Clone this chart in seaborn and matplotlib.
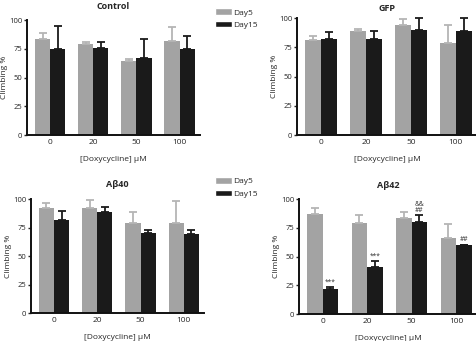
import numpy as np
import pandas as pd
import matplotlib
matplotlib.use('Agg')
import matplotlib.pyplot as plt
from matplotlib.patches import Patch
import seaborn as sns

# doses de doxycycline
doses = ['0', '20', '50', '100']
jours = ['Day5', 'Day15']

# valeurs (moyenne, erreur haute)
control_d5 = [84, 79, 64, 82]
control_d5_err = [5, 2, 2, 12]
control_d15 = [75, 76, 67, 75]
control_d15_err = [20, 5, 17, 11]

gfp_d5 = [81, 89, 94, 79]
gfp_d5_err = [4, 2, 5, 15]
gfp_d15 = [82, 82, 90, 89]
gfp_d15_err = [6, 7, 10, 11]

ab40_d5 = [92, 92, 79, 79]
ab40_d5_err = [5, 7, 10, 19]
ab40_d15 = [82, 89, 70, 69]
ab40_d15_err = [8, 4, 3, 4]

ab42_d5 = [87, 79, 84, 66]
ab42_d5_err = [5, 7, 5, 12]
ab42_d15 = [22, 41, 80, 60]
ab42_d15_err = [1.5, 5, 6, 0.5]
ab42_stars = ['***', '***', '&&\n##', '##']

# titre, données, position [gauche, bas, largeur, hauteur], marge du titre
panels = [
    ('Control', control_d5, control_d5_err, control_d15, control_d15_err, None,
     [0.057, 0.604, 0.362, 0.337], 8),
    ('GFP', gfp_d5, gfp_d5_err, gfp_d15, gfp_d15_err, None,
     [0.623, 0.604, 0.377, 0.343], 5),
    ('A\u03b240', ab40_d5, ab40_d5_err, ab40_d15, ab40_d15_err, None,
     [0.065, 0.082, 0.363, 0.334], 9),
    ('A\u03b242', ab42_d5, ab42_d5_err, ab42_d15, ab42_d15_err, ab42_stars,
     [0.627, 0.079, 0.373, 0.337], 8),
]

sns.set_style('white')
plt.rcParams['font.family'] = ['Open Sans', 'DejaVu Sans']

gris = '#a3a3a3'
noir = '#1a1a1a'
err_gris = '#b5b5b5'
palette = {'Day5': gris, 'Day15': noir}

fig = plt.figure(figsize=(4.77, 3.41), dpi=100)

for titre, d5, e5, d15, e15, stars, pos, tpad in panels:
    ax = fig.add_axes(pos)
    df = pd.DataFrame({
        'dose': doses * 2,
        'jour': ['Day5'] * 4 + ['Day15'] * 4,
        'val': d5 + d15,
    })
    sns.barplot(data=df, x='dose', y='val', hue='jour', order=doses, hue_order=jours,
                palette=palette, width=0.7, errorbar=None, saturation=1,
                edgecolor='none', legend=False, ax=ax)

    # barres d'erreur (seulement vers le haut)
    for cont, vals, errs, col in zip(ax.containers, [d5, d15], [e5, e15], [err_gris, noir]):
        xs = [b.get_x() + b.get_width() / 2 for b in cont]
        ax.errorbar(xs, vals, yerr=[np.zeros(len(errs)), errs], fmt='none',
                    ecolor=col, elinewidth=1.3, capsize=2.8, capthick=1.3,
                    clip_on=False, zorder=3)
        if stars is not None and col == noir:
            for x, v, e, s in zip(xs, vals, errs, stars):
                ax.text(x, v + e + 1.5, s, ha='center', va='bottom', fontsize=4.8,
                        linespacing=0.8, color='#333333')

    ax.set_xlim(-0.53, 3.47)
    ax.set_ylim(0, 100)
    ax.set_yticks([0, 25, 50, 75, 100])
    ax.set_title(titre, fontsize=6.5, fontweight='bold', pad=tpad)
    ax.set_xlabel('[Doxycycline] \u03bcM', fontsize=6, labelpad=7)
    ax.set_ylabel('Climbing %', fontsize=6, labelpad=1)
    ax.tick_params(axis='y', labelsize=5.5, length=2.5, width=1, pad=1, left=True)
    ax.tick_params(axis='x', labelsize=6, length=0, pad=3)
    sns.despine(ax=ax)
    for sp in ['left', 'bottom']:
        ax.spines[sp].set_linewidth(1.4)
        ax.spines[sp].set_color('#111111')

# légendes entre les colonnes
handles = [Patch(facecolor=gris, label='Day5'), Patch(facecolor=noir, label='Day15')]
for y in [0.985, 0.49]:
    fig.legend(handles=handles, loc='upper left', bbox_to_anchor=(0.443, y),
               frameon=False, fontsize=6, handlelength=2.1, handleheight=0.8,
               handletextpad=0.1, labelspacing=0.55, borderaxespad=0)

fig.savefig('out.png', dpi=100)
